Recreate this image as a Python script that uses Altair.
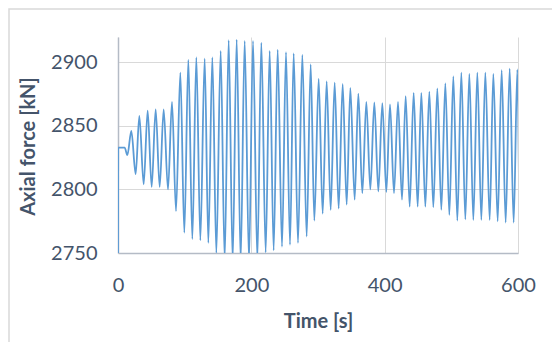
import altair as alt
import pandas as pd

# Extrema of the axial-force signal (time in s, force in kN)
time_s = [0, 0.3, 10, 14, 20, 26.5, 32, 38.5, 44.5, 50.5, 56.5, 62.5, 68.5, 75, 81, 87,
          93.5, 99.5, 105.5, 111.5, 117.5, 123.5, 130, 135.5, 141.5, 147.5, 154, 160,
          166, 172, 178, 184, 190, 196.5, 202.5, 209, 215, 221.5, 227.5, 233.5, 239.5,
          246, 252, 258, 263.5, 270, 276.5, 283, 289, 294.5, 301, 307, 313, 319, 325,
          331, 337, 343, 348.5, 355, 360.5, 366.5, 372.5, 378.5, 384.5, 390.5, 396.5,
          402.5, 408, 414, 420, 426, 431.5, 437.5, 443.5, 449.5, 455, 461, 467, 473,
          479, 485, 491, 497, 503, 509, 515, 521, 527, 533, 539, 545, 551, 557.5, 563,
          569.5, 575.5, 581.5, 587.5, 593.5, 599, 602]
force_kN = [2700, 2833, 2833, 2827, 2846, 2812, 2858, 2804, 2862, 2802, 2863, 2802, 2863,
            2800, 2869, 2783, 2892, 2766, 2902, 2761, 2904, 2760, 2903, 2758, 2904, 2750,
            2909, 2745, 2917.5, 2744, 2918, 2744, 2917, 2744, 2917, 2745, 2915.5, 2750.5,
            2909, 2752, 2910, 2755, 2908, 2756.5, 2907, 2758, 2906, 2763, 2898.5, 2775.5,
            2887, 2781, 2885, 2784, 2884, 2785, 2883, 2788, 2880, 2792, 2875.5, 2797,
            2869, 2800, 2868.5, 2798.5, 2868, 2798, 2867, 2797, 2869, 2792, 2873.5,
            2786.5, 2876, 2786.5, 2876, 2786.5, 2877, 2786, 2879.5, 2784, 2883.5, 2780,
            2889, 2775.5, 2892, 2776.5, 2891, 2776, 2892, 2776, 2892, 2776, 2891, 2775,
            2894, 2774, 2895, 2774, 2894.5, 2774]

x_ticks = [0, 200, 400, 600]
y_ticks = [2750, 2800, 2850, 2900]

df = pd.DataFrame({"t": time_s, "f": force_kN})

FONT = "Lato"
TXT = "#44546A"

line = alt.Chart(df).mark_line(
    color="#5B9BD5", strokeWidth=1.8, interpolate="monotone", clip=True
).encode(
    x=alt.X("t:Q", scale=alt.Scale(domain=[0, 600], nice=False, zero=False),
            axis=alt.Axis(values=x_ticks, title="Time [s]", ticks=False, format="d",
                          labelPadding=22, titleBaseline="top", titleY=58,
                          labelFlush=False)),
    y=alt.Y("f:Q", scale=alt.Scale(domain=[2750, 2920], nice=False, zero=False),
            axis=alt.Axis(values=y_ticks, title="Axial force [kN]", ticks=False, format="d",
                          labelPadding=21, titleAngle=270, titleX=-84, titleY=109,
                          titleBaseline="alphabetic", titleAlign="center")),
)

# chart-area frame (only its top and left edges fall inside the window)
frame = alt.Chart(df.head(1)).mark_rect(
    fill=None, fillOpacity=0, stroke="#D9D9D9", strokeWidth=1.5, clip=False
).encode(
    x=alt.value(-109), x2=alt.value(480), y=alt.value(-28), y2=alt.value(400)
)

chart = alt.layer(line, frame).properties(
    width=400, height=216,
    autosize=alt.AutoSizeParams(type="none"),
    padding={"left": 110, "top": 29, "right": 34, "bottom": 89},
).configure_view(stroke=None).configure_axis(
    labelFont=FONT, titleFont=FONT, labelFontSize=20, titleFontSize=20,
    labelColor=TXT, titleColor=TXT, titleFontWeight="bold",
    gridColor="#D9D9D9", gridWidth=1, domainColor="#B4BBC6", domainWidth=1.5,
)

chart.save("out.html", embed_options={"renderer": "svg", "actions": False})
